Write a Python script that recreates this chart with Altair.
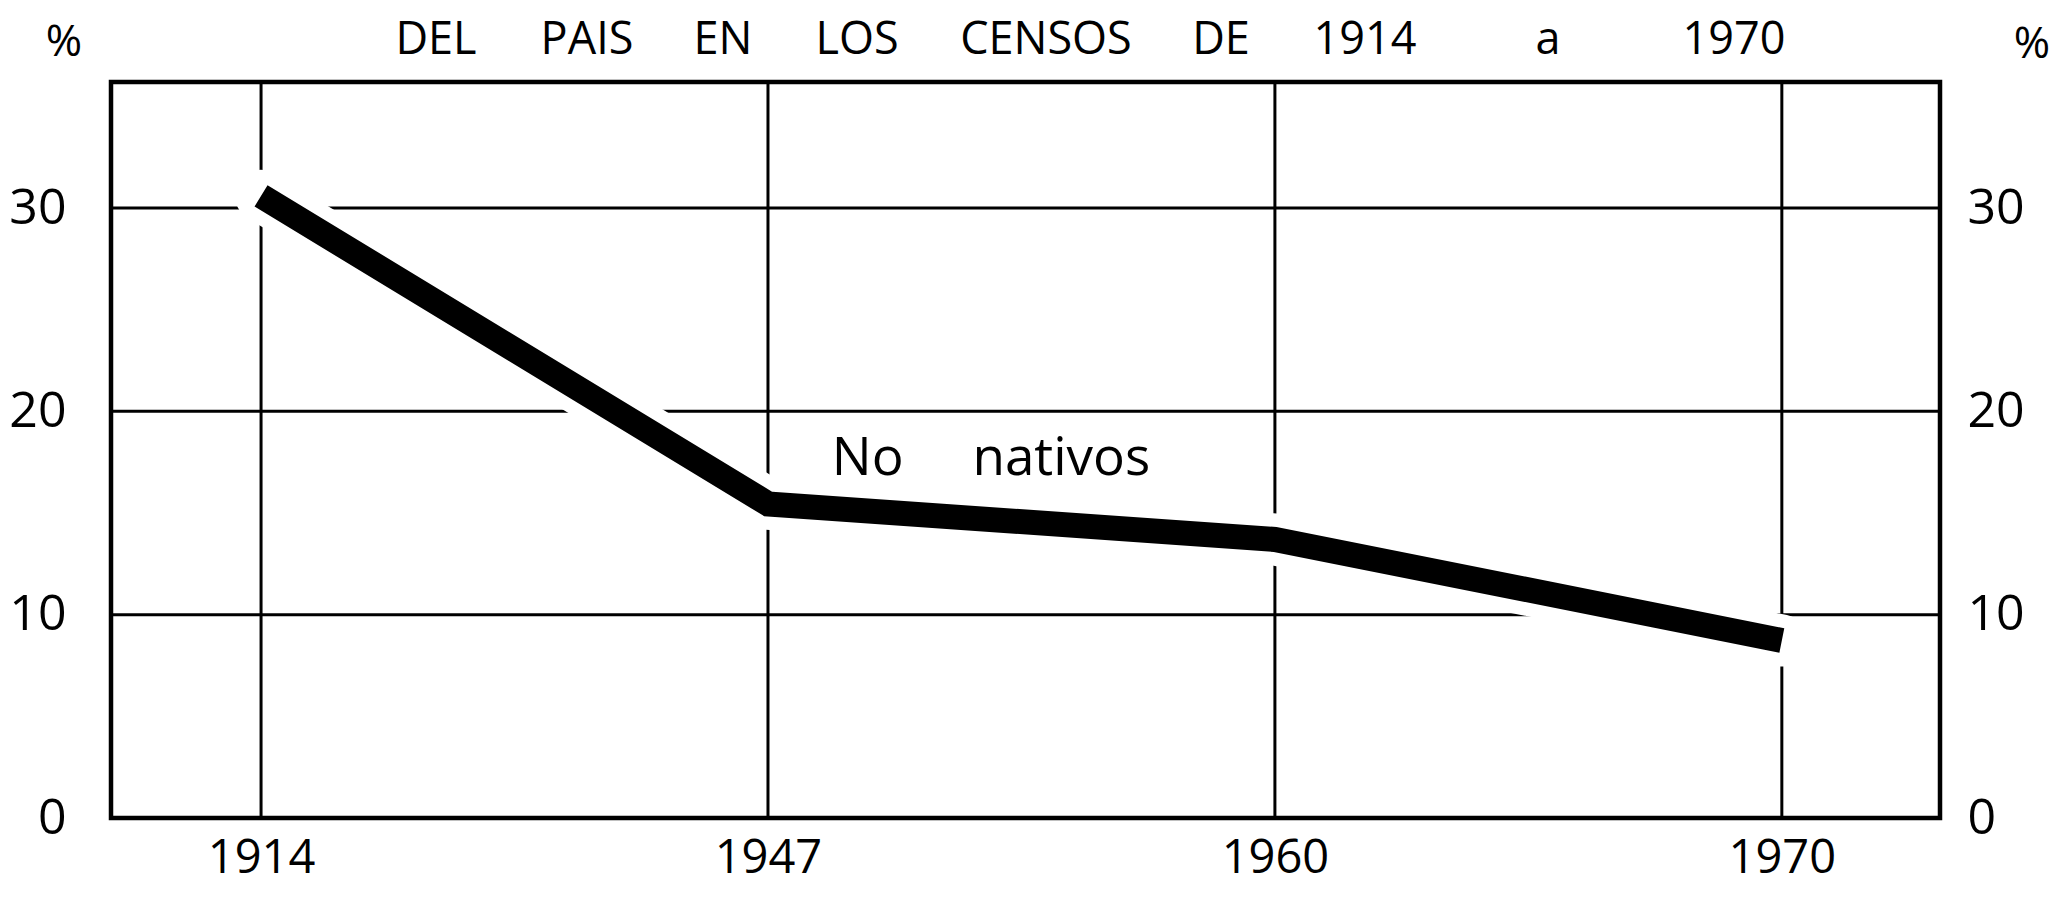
import json
import altair as alt
import pandas as pd

# ---- data ----
years = ["1914", "1947", "1960", "1970"]
pct_no_nativos = [30.6, 15.45, 13.7, 8.73]
y_ticks = [0, 10, 20, 30]
grid_y = [10, 20, 30]
series_label_words = ["No", "nativos"]
title_words = ["DEL", "PAIS", "EN", "LOS", "CENSOS", "DE", "1914", "a", "1970"]

# ---- layout (pixels, relative to the plot area) ----
FONT = "Open Sans"
W, H = 1829, 736
NB = "\u00a0"
TITLE_X = [325, 476, 612, 746, 935, 1110, 1254, 1437, 1623]
TITLE_BASELINE = -28

series_label = (NB * 5).join(series_label_words)

df = pd.DataFrame({"idx": list(range(len(years))), "year": years, "pct": pct_no_nativos})
df_grid_y = pd.DataFrame({"v": grid_y})

xscale = alt.Scale(domain=[-0.296, 3.312], nice=False, zero=False)
yscale = alt.Scale(domain=[0, 36.2], nice=False, zero=False)

label_expr = json.dumps(years) + "[datum.value]"

x_axis = alt.Axis(values=list(range(len(years))), labelExpr=label_expr, title=None,
                  domain=False, ticks=False, tickSize=0, grid=False,
                  labelFont=FONT, labelFontSize=47, labelColor="black",
                  labelPadding=17, labelFontWeight="normal")
y_left = alt.Axis(values=y_ticks, title=None, orient="left", domain=False, ticks=False,
                  tickSize=0, grid=False, labelFont=FONT, labelFontSize=50,
                  labelColor="black", labelPadding=45)
y_right = alt.Axis(values=y_ticks, title=None, orient="right", domain=False, ticks=False,
                   tickSize=0, grid=False, labelFont=FONT, labelFontSize=50,
                   labelColor="black", labelPadding=27)

# vertical grid lines at each census
vgrid = alt.Chart(df).mark_rule(color="black", strokeWidth=3).encode(
    x=alt.X("idx:Q", scale=xscale, axis=x_axis),
    y=alt.value(0), y2=alt.value(H),
)

# horizontal grid lines
hgrid = alt.Chart(df_grid_y).mark_rule(color="black", strokeWidth=3).encode(
    y=alt.Y("v:Q", scale=yscale, axis=y_left),
    x=alt.value(0), x2=alt.value(W),
)

# white halo that interrupts the grid around the thick line
halo = alt.Chart(df).mark_line(color="white", strokeWidth=52, strokeCap="round",
                               strokeJoin="round").encode(
    x=alt.X("idx:Q", scale=xscale),
    y=alt.Y("pct:Q", scale=yscale, axis=None),
)

line = alt.Chart(df).mark_line(color="black", strokeWidth=25, strokeCap="butt",
                               strokeJoin="miter").encode(
    x=alt.X("idx:Q", scale=xscale),
    y=alt.Y("pct:Q", scale=yscale, axis=y_right),
)

label = alt.Chart(pd.DataFrame({"t": [series_label]})).mark_text(
    font=FONT, fontSize=53, color="black", align="center", baseline="alphabetic"
).encode(text="t:N", x=alt.value(880), y=alt.value(393))

title_layers = [
    alt.Chart(pd.DataFrame({"t": [word]})).mark_text(
        font=FONT, fontSize=45, color="black", align="center", baseline="alphabetic"
    ).encode(text="t:N", x=alt.value(px), y=alt.value(TITLE_BASELINE))
    for word, px in zip(title_words, TITLE_X)
]

pct_left = alt.Chart(pd.DataFrame({"t": ["%"]})).mark_text(
    font=FONT, fontSize=44, color="black", align="center", baseline="alphabetic"
).encode(text="t:N", x=alt.value(-47), y=alt.value(-26))

pct_right = alt.Chart(pd.DataFrame({"t": ["%"]})).mark_text(
    font=FONT, fontSize=44, color="black", align="center", baseline="alphabetic"
).encode(text="t:N", x=alt.value(1921), y=alt.value(-24))

chart = alt.layer(vgrid, hgrid, halo, line, label, *title_layers, pct_left, pct_right).resolve_axis(
    y="independent"
).properties(
    width=W, height=H,
    autosize=alt.AutoSizeParams(type="none"),
    padding={"left": 103, "top": 74, "right": 110, "bottom": 70},
    background="white",
).configure_view(stroke="black", strokeWidth=4.5)

chart.save("out.html", embed_options={"renderer": "svg", "actions": False})
